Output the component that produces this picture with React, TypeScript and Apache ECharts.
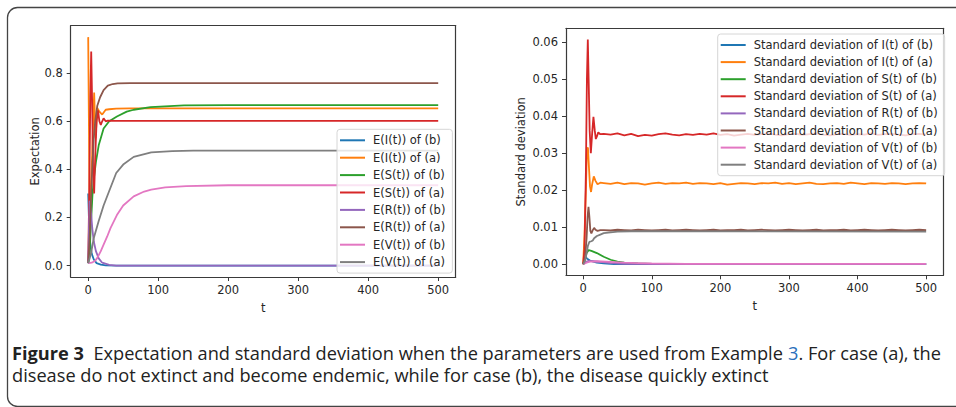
import React, { useEffect, useRef } from "react";
import * as echarts from "echarts";

// ---------- Left chart: expectations ----------
const T_E_IB = [0, 1, 3, 5, 8, 12, 18, 25, 40, 500];
const E_IB = [0.3, 0.2, 0.09, 0.05, 0.025, 0.01, 0.004, 0.001, 0, 0];
const T_E_IA = [0, 2, 4, 6, 8.5, 10.5, 13, 16, 20, 25, 30, 40, 60, 500];
const E_IA = [0.95, 0.25, 0.3, 0.5, 0.72, 0.53, 0.655, 0.64, 0.628, 0.648, 0.65, 0.653, 0.654, 0.654];
const T_E_SB = [0, 2, 3.5, 6, 8, 11, 15, 22, 30, 41, 55, 65, 89, 137, 200, 500];
const E_SB = [0.01, 0.05, 0.15, 0.29, 0.36, 0.43, 0.5, 0.57, 0.6, 0.62, 0.64, 0.648, 0.659, 0.666, 0.667, 0.667];
const T_E_SA = [0, 1.5, 3, 4.3, 5.5, 7, 8.5, 10, 12, 14, 16, 18, 20, 22, 25, 28, 40, 500];
const E_SA = [0.02, 0.3, 0.7, 0.89, 0.7, 0.4, 0.3, 0.45, 0.6, 0.645, 0.6, 0.585, 0.6, 0.612, 0.6, 0.603, 0.602, 0.602];
const T_E_RB = [0, 2, 4, 6, 8, 11, 15, 20, 30, 40, 500];
const E_RB = [0.01, 0.27, 0.22, 0.15, 0.1, 0.06, 0.03, 0.012, 0.003, 0, 0];
const T_E_RA = [0, 2, 4, 6, 8, 10, 13, 17, 22, 28, 35, 42, 60, 500];
const E_RA = [0.01, 0.12, 0.28, 0.42, 0.53, 0.6, 0.665, 0.7, 0.73, 0.748, 0.755, 0.758, 0.759, 0.759];
const T_E_VB = [0, 5, 10, 13, 18, 22, 27, 32, 41, 50, 65, 80, 90, 110, 140, 200, 500];
const E_VB = [0.01, 0.012, 0.02, 0.032, 0.06, 0.087, 0.12, 0.157, 0.21, 0.25, 0.288, 0.308, 0.316, 0.325, 0.33, 0.334, 0.334];
const T_E_VA = [0, 4, 8, 15, 22, 30, 40, 50, 65, 90, 120, 150, 500];
const E_VA = [0.01, 0.05, 0.115, 0.185, 0.25, 0.31, 0.385, 0.42, 0.452, 0.471, 0.476, 0.478, 0.478];

// ---------- Right chart: standard deviations ----------
const T_NOISE = [30, 40, 50, 60, 70, 80, 90, 100, 110, 120, 130, 140, 150, 160, 170, 180, 190, 200, 210, 220, 230, 240, 250, 260, 270, 280, 290, 300, 310, 320, 330, 340, 350, 360, 370, 380, 390, 400, 410, 420, 430, 440, 450, 460, 470, 480, 490, 500];
const T_SD_IB = [0, 2, 4, 6, 10, 15, 20, 30, 45, 60, 500];
const SD_IB = [0, 0.0012, 0.0018, 0.0015, 0.001, 0.0007, 0.0004, 0.0002, 0.00005, 0, 0];
const T_SD_IA_HEAD = [0, 2, 4, 5.5, 7, 8.5, 10, 11.5, 13, 15.5, 18, 21, 25];
const SD_IA_HEAD = [0, 0.008, 0.02, 0.031, 0.0315, 0.026, 0.021, 0.0195, 0.0215, 0.0237, 0.0225, 0.0216, 0.022];
const SD_IA_TAIL = [0.0219, 0.0217, 0.022, 0.0216, 0.0219, 0.0218, 0.0215, 0.0218, 0.022, 0.0217, 0.0219, 0.0218, 0.022, 0.0217, 0.0219, 0.0218, 0.0216, 0.0219, 0.0215, 0.0217, 0.0219, 0.0218, 0.0216, 0.0219, 0.0218, 0.022, 0.0217, 0.0219, 0.0216, 0.0218, 0.022, 0.0217, 0.0216, 0.0218, 0.0219, 0.0217, 0.022, 0.0218, 0.0216, 0.0219, 0.0218, 0.0217, 0.0219, 0.0218, 0.0216, 0.0218, 0.0219, 0.0218];
const T_SD_SB = [0, 3, 5, 8, 12, 20, 30, 40, 50, 60, 80, 100, 150, 500];
const SD_SB = [0, 0.0015, 0.003, 0.0038, 0.0036, 0.003, 0.002, 0.0012, 0.0007, 0.0004, 0.0002, 0.0001, 0, 0];
const T_SD_SA_HEAD = [0, 2, 4, 5.5, 6.8, 8, 9.5, 11.2, 13, 15, 17, 18.5, 20, 22, 25];
const SD_SA_HEAD = [0, 0.004, 0.025, 0.05, 0.0607, 0.05, 0.036, 0.03, 0.035, 0.0398, 0.036, 0.0338, 0.0345, 0.0356, 0.0351];
const SD_SA_TAIL = [0.0352, 0.035, 0.0353, 0.0348, 0.0352, 0.0346, 0.0349, 0.0347, 0.0351, 0.0353, 0.035, 0.0348, 0.0351, 0.0349, 0.0352, 0.035, 0.0353, 0.0349, 0.0351, 0.0347, 0.035, 0.0352, 0.0349, 0.0351, 0.0353, 0.035, 0.0348, 0.0351, 0.0352, 0.0349, 0.0351, 0.0353, 0.035, 0.0348, 0.0351, 0.0352, 0.0349, 0.0351, 0.035, 0.0353, 0.0349, 0.0351, 0.0352, 0.035, 0.0348, 0.0351, 0.0352, 0.035];
const T_SD_RB = [0, 4, 8, 15, 25, 40, 60, 100, 500];
const SD_RB = [0, 0.0006, 0.0009, 0.0008, 0.0006, 0.0003, 0.0001, 0, 0];
const T_SD_RA_HEAD = [0, 3, 5, 6.5, 7.8, 9, 10.5, 12, 14, 16, 18, 21, 25];
const SD_RA_HEAD = [0, 0.002, 0.007, 0.013, 0.0155, 0.013, 0.009, 0.0083, 0.0092, 0.0098, 0.0093, 0.009, 0.0092];
const SD_RA_TAIL = [0.0092, 0.0091, 0.0093, 0.0092, 0.0091, 0.0093, 0.0092, 0.0091, 0.0092, 0.0093, 0.0091, 0.0092, 0.0093, 0.0092, 0.0091, 0.0092, 0.0093, 0.0091, 0.0092, 0.0092, 0.0093, 0.0091, 0.0092, 0.0093, 0.0092, 0.0091, 0.0092, 0.0093, 0.0092, 0.0091, 0.0092, 0.0093, 0.0091, 0.0092, 0.0092, 0.0093, 0.0091, 0.0092, 0.0093, 0.0092, 0.0091, 0.0092, 0.0093, 0.0092, 0.0091, 0.0092, 0.0093, 0.0092];
const T_SD_VB = [0, 5, 10, 20, 40, 60, 80, 100, 150, 200, 500];
const SD_VB = [0, 0.0004, 0.0007, 0.0008, 0.0006, 0.0004, 0.0003, 0.0002, 0.0001, 0.0001, 0.0001];
const T_SD_VA = [0, 3, 5, 7, 9, 12, 14, 16, 20, 25, 30, 40, 50, 70, 500];
const SD_VA = [0, 0.001, 0.003, 0.005, 0.006, 0.0062, 0.0064, 0.007, 0.0076, 0.008, 0.0084, 0.0086, 0.0088, 0.0089, 0.0088];

const COLORS = ["#1f77b4", "#ff7f0e", "#2ca02c", "#d62728", "#9467bd", "#8c564b", "#e377c2", "#7f7f7f"];
const E_NAMES = ["E(I(t)) of (b)", "E(I(t)) of (a)", "E(S(t)) of (b)", "E(S(t)) of (a)", "E(R(t)) of (b)", "E(R(t)) of (a)", "E(V(t)) of (b)", "E(V(t)) of (a)"];
const SD_NAMES = [
  "Standard deviation of I(t) of (b)", "Standard deviation of I(t) of (a)",
  "Standard deviation of S(t) of (b)", "Standard deviation of S(t) of (a)",
  "Standard deviation of R(t) of (b)", "Standard deviation of R(t) of (a)",
  "Standard deviation of V(t) of (b)", "Standard deviation of V(t) of (a)",
];
const X_TICKS = [0, 100, 200, 300, 400, 500];
const E_TICKS = [0, 0.2, 0.4, 0.6, 0.8];
const SD_TICKS = [0, 0.01, 0.02, 0.03, 0.04, 0.05, 0.06];

const zip = (t: number[], v: number[]) => t.map((x, i) => [x, v[i]]);

const E_DATA = [
  zip(T_E_IB, E_IB), zip(T_E_IA, E_IA), zip(T_E_SB, E_SB), zip(T_E_SA, E_SA),
  zip(T_E_RB, E_RB), zip(T_E_RA, E_RA), zip(T_E_VB, E_VB), zip(T_E_VA, E_VA),
];
const SD_DATA = [
  zip(T_SD_IB, SD_IB),
  zip([...T_SD_IA_HEAD, ...T_NOISE], [...SD_IA_HEAD, ...SD_IA_TAIL]),
  zip(T_SD_SB, SD_SB),
  zip([...T_SD_SA_HEAD, ...T_NOISE], [...SD_SA_HEAD, ...SD_SA_TAIL]),
  zip(T_SD_RB, SD_RB),
  zip([...T_SD_RA_HEAD, ...T_NOISE], [...SD_RA_HEAD, ...SD_RA_TAIL]),
  zip(T_SD_VB, SD_VB),
  zip(T_SD_VA, SD_VA),
];

const FONT = "DejaVu Sans";
const INK = "#262626";
const SPINE = "#3a3a3a";
const CAP_FONT = "'Open Sans', sans-serif";

function xAxis(gridIndex: number) {
  return {
    type: "value", gridIndex, min: -25, max: 525, position: "bottom",
    name: "t", nameLocation: "middle", nameGap: 25,
    nameTextStyle: { fontFamily: FONT, fontSize: 11.5, color: INK },
    splitLine: { show: false },
    axisLine: { show: true, onZero: false, lineStyle: { color: SPINE, width: 1.2 } },
    axisTick: { show: true, length: 4, customValues: X_TICKS, lineStyle: { color: SPINE } },
    axisLabel: { customValues: X_TICKS, margin: 7, fontFamily: FONT, fontSize: 11.5, color: INK },
  };
}
function xAxisTop(gridIndex: number) {
  return {
    type: "value", gridIndex, min: -25, max: 525, position: "top",
    splitLine: { show: false },
    axisLine: { show: true, onZero: false, lineStyle: { color: SPINE, width: 1.2 } },
    axisTick: { show: false }, axisLabel: { show: false },
  };
}

function yAxis(gridIndex: number, min: number, max: number, ticks: number[], dec: number, name: string, gap: number) {
  return {
    type: "value", gridIndex, min, max, position: "left",
    name, nameLocation: "middle", nameGap: gap,
    nameTextStyle: { fontFamily: FONT, fontSize: 11.5, color: INK },
    splitLine: { show: false },
    axisLine: { show: true, onZero: false, lineStyle: { color: SPINE, width: 1.2 } },
    axisTick: { show: true, length: 4, customValues: ticks, lineStyle: { color: SPINE } },
    axisLabel: {
      customValues: ticks, margin: 8, fontFamily: FONT, fontSize: 11.5, color: INK,
      formatter: (v: number) => v.toFixed(dec),
    },
  };
}
function yAxisRight(gridIndex: number, min: number, max: number) {
  return {
    type: "value", gridIndex, min, max, position: "right",
    splitLine: { show: false },
    axisLine: { show: true, onZero: false, lineStyle: { color: SPINE, width: 1.2 } },
    axisTick: { show: false }, axisLabel: { show: false },
  };
}

function legend(left: number, top: number, names: string[], gap: number) {
  return {
    orient: "vertical", left, top, data: names,
    icon: "rect", itemWidth: 25, itemHeight: 2, itemGap: gap,
    padding: [4, 7, 4, 3],
    backgroundColor: "rgba(255,255,255,0.8)", borderColor: "#d6d6d6", borderWidth: 1, borderRadius: 3,
    selectedMode: false,
    textStyle: { fontFamily: FONT, fontSize: 11.5, color: INK, lineHeight: 14, padding: [0, 0, 0, 3] },
  };
}

export default function App() {
  const ref = useRef<HTMLDivElement>(null);
  useEffect(() => {
    if (!ref.current) return;
    const chart = echarts.init(ref.current, null, { renderer: "svg" });
    const series: any[] = [];
    E_NAMES.forEach((n, i) => series.push({
      type: "line", name: n, xAxisIndex: 0, yAxisIndex: 0, data: E_DATA[i],
      showSymbol: false, symbol: "none", color: COLORS[i], lineStyle: { width: 1.8, color: COLORS[i] },
    }));
    SD_NAMES.forEach((n, i) => series.push({
      type: "line", name: n, xAxisIndex: 1, yAxisIndex: 1, data: SD_DATA[i],
      showSymbol: false, symbol: "none", color: COLORS[i], lineStyle: { width: 1.8, color: COLORS[i] },
    }));
    chart.setOption({
      animation: false,
      backgroundColor: "#ffffff",
      grid: [
        { left: 70.7, top: 25.7, width: 385, height: 251.3, containLabel: false },
        { left: 566, top: 28.3, width: 377.3, height: 247, containLabel: false },
      ],
      xAxis: [xAxis(0), xAxis(1), xAxisTop(0), xAxisTop(1)],
      yAxis: [
        yAxis(0, -0.0475, 0.9975, E_TICKS, 1, "Expectation", 30),
        yAxis(1, -0.003, 0.0637, SD_TICKS, 2, "Standard deviation", 39),
        yAxisRight(0, -0.0475, 0.9975),
        yAxisRight(1, -0.003, 0.0637),
      ],
      legend: [legend(337, 129.3, E_NAMES, 3.4), legend(717.7, 34, SD_NAMES, 3.1)],
      series,
      graphic: [
        {
          type: "rect", silent: true, z: -1,
          shape: { x: 7.5, y: 7.5, width: 2000, height: 399, r: 10 },
          style: { fill: "none", stroke: "#444", lineWidth: 1.3 },
        },
        {
          type: "text", x: 12, y: 344, scaleX: 1.04, originX: 0,
          style: {
            text: "{b|Figure 3}  Expectation and standard deviation when the parameters are used from Example {l|3}. For case (a), the",
            fontFamily: CAP_FONT, fontSize: 17.5, fill: "#222",
            rich: {
              b: { fontFamily: CAP_FONT, fontSize: 17.5, fontWeight: "bold", fill: "#222" },
              l: { fontFamily: CAP_FONT, fontSize: 17.5, fill: "#2a6ebb" },
            },
          },
        },
        {
          type: "text", x: 12, y: 366, scaleX: 1.04, originX: 0,
          style: {
            text: "disease do not extinct and become endemic, while for case (b), the disease quickly extinct",
            fontFamily: CAP_FONT, fontSize: 17.5, fill: "#222",
          },
        },
      ],
    });
    return () => chart.dispose();
  }, []);
  return <div ref={ref} style={{ position: "absolute", left: 0, top: 0, width: 956, height: 407 }} />;
}
